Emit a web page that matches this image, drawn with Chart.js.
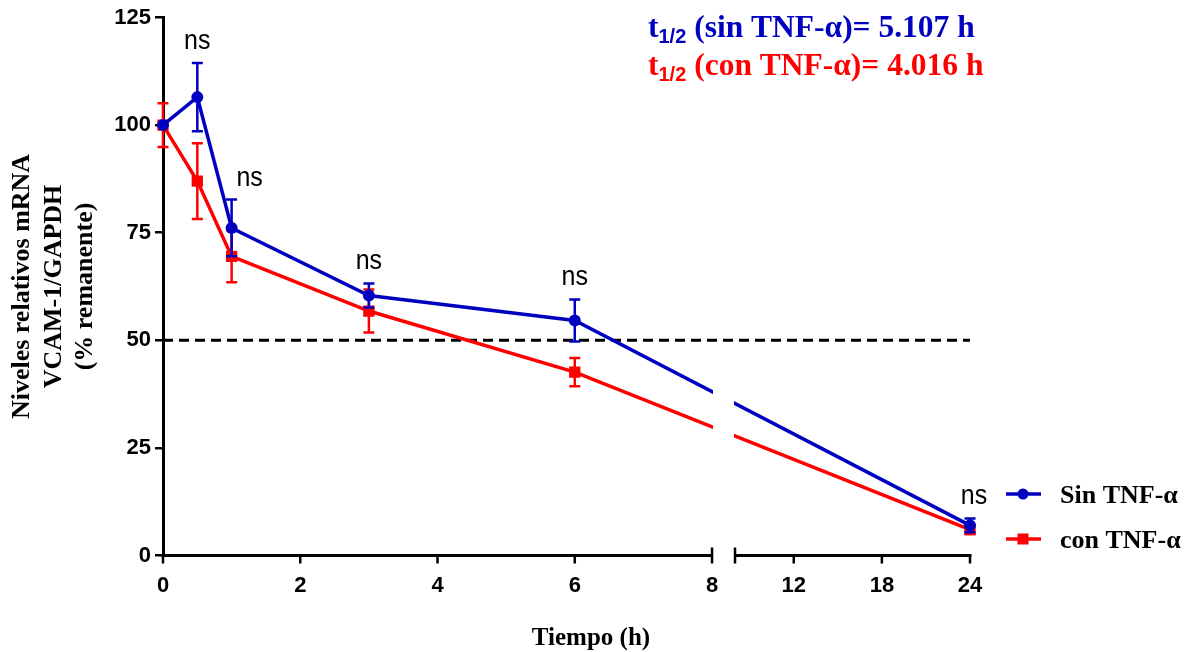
<!DOCTYPE html>
<html><head><meta charset="utf-8">
<script src="https://cdn.jsdelivr.net/npm/chart.js@4.4.1/dist/chart.umd.min.js"></script>
<style>html,body{margin:0;padding:0;background:#fff;}#wrap{width:1188px;height:652px;position:relative;}</style>
</head><body><div id="wrap"><canvas id="c" width="1188" height="652"></canvas></div>
<script>
// ---- data ----
const timesH = [0, 0.5, 1, 3, 6, 24];
const sinTNF = [100, 106.5, 76.1, 60.4, 54.6, 7.0];
const sinTNFErr = [0, 7.9, 6.6, 2.8, 4.9, 1.6];
const conTNF = [100, 87.0, 69.5, 56.8, 42.6, 6.0];
const conTNFErr = [5.1, 8.8, 6.0, 5.0, 3.3, 1.0];
const seriesLabels = ['Sin TNF-\u03B1', 'con TNF-\u03B1'];
const halfLifeLabels = ['(sin TNF-\u03B1)= 5.107 h', '(con TNF-\u03B1)= 4.016 h'];
const nsLabels = ['', 'ns', 'ns', 'ns', 'ns', 'ns'];
const xTickLabels = [0, 2, 4, 6, 8, 12, 18, 24];
const yTickLabels = [0, 25, 50, 75, 100, 125];
const referenceLevel = [50, 50];
const referenceTimes = [0, 24];
const xTitle = 'Tiempo (h)';
const yTitle = ['Niveles relativos mRNA', 'VCAM-1/GAPDH', '(% remanente)'];

// ---- styles ----
const BLUE = '#0000C0', RED = '#FF0000';
const SERIF = "'Liberation Serif', 'Times New Roman', serif";
const SANS = "'Liberation Sans', Arial, sans-serif";
const nsShiftPx = [0, 0, 18, 0, 0, 4];

// broken x axis: 0-8 h full scale, 8-24 h compressed after a gap
const BREAK_AT = 8, GAP = 0.335, K = 0.214;
const ux = t => t <= BREAK_AT ? t : BREAK_AT + GAP + (t - BREAK_AT) * K;

const seriesVals = [sinTNF, conTNF];
const seriesErrs = [sinTNFErr, conTNFErr];
const seriesColors = [BLUE, RED];

const brokenAxisPlugin = {
  id: 'brokenAxis',
  beforeDatasetDraw(chart, args) {
    const ds = chart.data.datasets[args.index];
    if (ds._series === undefined) return;
    const ctx = chart.ctx, xs = chart.scales.x, ys = chart.scales.y;
    const bx1 = xs.getPixelForValue(BREAK_AT) + 1, bx2 = xs.getPixelForValue(BREAK_AT + GAP) - 1;
    ctx.save();
    ctx.beginPath();
    ctx.rect(0, 0, bx1, chart.height);
    ctx.rect(bx2, 0, chart.width - bx2, chart.height);
    ctx.clip();
    // error bars
    const s = ds._series, vals = seriesVals[s], errs = seriesErrs[s];
    ctx.strokeStyle = seriesColors[s];
    ctx.lineWidth = 2.5;
    timesH.forEach((t, i) => {
      if (!errs[i]) return;
      const x = xs.getPixelForValue(ux(t));
      const yt = ys.getPixelForValue(vals[i] + errs[i]);
      const yb = ys.getPixelForValue(vals[i] - errs[i]);
      ctx.beginPath();
      ctx.moveTo(x, yt); ctx.lineTo(x, yb);
      ctx.moveTo(x - 5.5, yt); ctx.lineTo(x + 5.5, yt);
      ctx.moveTo(x - 5.5, yb); ctx.lineTo(x + 5.5, yb);
      ctx.stroke();
    });
  },
  afterDatasetDraw(chart, args) {
    const ds = chart.data.datasets[args.index];
    if (ds._series === undefined) return;
    chart.ctx.restore();
  },
  afterDatasetsDraw(chart) {
    const ctx = chart.ctx, xs = chart.scales.x, ys = chart.scales.y;
    const y0 = ys.getPixelForValue(0);
    const p0 = xs.getPixelForValue(0), p8 = xs.getPixelForValue(BREAK_AT);
    const p8b = xs.getPixelForValue(BREAK_AT + GAP), pEnd = xs.getPixelForValue(ux(24));
    ctx.save();
    ctx.strokeStyle = '#000';
    ctx.lineWidth = 3;
    ctx.beginPath();
    ctx.moveTo(p0 - 1.5, y0); ctx.lineTo(p8, y0);
    ctx.moveTo(p8b, y0); ctx.lineTo(pEnd + 1.5, y0);
    ctx.stroke();
    ctx.lineWidth = 2.5;
    ctx.beginPath();
    xTickLabels.forEach(t => {
      const x = xs.getPixelForValue(ux(t));
      const top = (t === BREAK_AT) ? y0 - 8 : y0;
      ctx.moveTo(x, top); ctx.lineTo(x, y0 + 8);
    });
    ctx.moveTo(p8b, y0 - 8); ctx.lineTo(p8b, y0 + 8);
    ctx.stroke();
    // ns labels
    ctx.fillStyle = '#000';
    ctx.font = '25px ' + SANS;
    ctx.textAlign = 'center';
    ctx.textBaseline = 'alphabetic';
    timesH.forEach((t, i) => {
      if (!nsLabels[i]) return;
      const top = Math.max(sinTNF[i] + sinTNFErr[i], conTNF[i] + conTNFErr[i]);
      const x = xs.getPixelForValue(ux(t)) + nsShiftPx[i];
      const y = ys.getPixelForValue(top) - 14;
      ctx.save();
      ctx.translate(x, y);
      ctx.scale(1, 1.12);
      ctx.fillText(nsLabels[i], 0, 0);
      ctx.restore();
    });
    ctx.restore();
  },
  afterDraw(chart) {
    const ctx = chart.ctx;
    ctx.save();
    // x axis title
    ctx.fillStyle = '#000';
    ctx.font = 'bold 25px ' + SERIF;
    ctx.textAlign = 'center';
    ctx.textBaseline = 'alphabetic';
    ctx.fillText(xTitle, 591, 645);
    // half-life annotations
    const hlY = [37, 75];
    halfLifeLabels.forEach((txt, i) => {
      ctx.fillStyle = seriesColors[i];
      ctx.textAlign = 'left';
      ctx.textBaseline = 'alphabetic';
      let x = 648;
      ctx.font = 'bold 31.5px ' + SERIF;
      ctx.fillText('t', x, hlY[i]);
      x += ctx.measureText('t').width;
      ctx.font = 'bold 20px ' + SANS;
      ctx.fillText('1/2', x, hlY[i] + 6);
      x += ctx.measureText('1/2').width;
      ctx.font = 'bold 31.5px ' + SERIF;
      ctx.fillText(' ' + txt, x, hlY[i]);
    });
    // legend
    const legY = [494, 539];
    seriesLabels.forEach((lab, i) => {
      const y = legY[i];
      ctx.strokeStyle = seriesColors[i];
      ctx.fillStyle = seriesColors[i];
      ctx.lineWidth = 3.5;
      ctx.beginPath(); ctx.moveTo(1006, y); ctx.lineTo(1041, y); ctx.stroke();
      if (i === 0) { ctx.beginPath(); ctx.arc(1023, y, 5.5, 0, Math.PI * 2); ctx.fill(); }
      else { ctx.fillRect(1017.5, y - 5.5, 11, 11); }
      ctx.fillStyle = '#000';
      ctx.font = 'bold 26px ' + SERIF;
      ctx.textAlign = 'left';
      ctx.textBaseline = 'alphabetic';
      ctx.fillText(lab, 1060, y + 9);
    });
    ctx.restore();
  }
};

const mkSeries = (s, style, radius, order) => ({
  label: seriesLabels[s],
  _series: s,
  data: timesH.map((t, i) => ({ x: ux(t), y: seriesVals[s][i] })),
  borderColor: seriesColors[s],
  backgroundColor: seriesColors[s],
  borderWidth: 3.5,
  pointStyle: style,
  pointRadius: radius,
  pointBorderWidth: 0,
  tension: 0,
  clip: false,
  order: order
});

new Chart(document.getElementById('c'), {
  type: 'scatter',
  data: {
    datasets: [
      mkSeries(0, 'circle', 6, 1),
      mkSeries(1, 'rect', 8, 2),
      {
        label: 'ref',
        data: referenceTimes.map((t, i) => ({ x: ux(t), y: referenceLevel[i] })),
        showLine: true,
        borderColor: '#000',
        borderWidth: 3,
        borderDash: [10, 6],
        pointRadius: 0,
        clip: false,
        order: 3
      }
    ]
  },
  options: {
    responsive: false,
    animation: false,
    showLine: true,
    layout: { padding: { top: 17.5, right: 218, left: 0, bottom: 0 } },
    plugins: {
      legend: { display: false },
      tooltip: { enabled: false },
      title: { display: false }
    },
    scales: {
      x: {
        type: 'linear',
        min: 0,
        max: ux(24),
        afterBuildTicks: (scale) => { scale.ticks = xTickLabels.map(t => ({ value: ux(t) })); },
        afterFit: (scale) => { scale.height = 96.5; },
        grid: { display: true, drawOnChartArea: false, drawTicks: true, tickLength: 8, color: 'rgba(0,0,0,0)' },
        border: { display: false },
        ticks: {
          autoSkip: false,
          maxRotation: 0,
          padding: 9,
          color: '#000',
          font: { family: SANS, size: 22, weight: 'bold' },
          callback: (v) => {
            const i = xTickLabels.findIndex(t => Math.abs(ux(t) - v) < 1e-6);
            return i >= 0 ? String(xTickLabels[i]) : '';
          }
        }
      },
      y: {
        type: 'linear',
        min: 0,
        max: 125,
        afterBuildTicks: (scale) => { scale.ticks = yTickLabels.map(v => ({ value: v })); },
        afterFit: (scale) => { scale.width = 163; },
        grid: { display: true, drawOnChartArea: false, drawTicks: true, tickLength: 8, color: '#000', lineWidth: 2.5 },
        border: { display: true, color: '#000', width: 3 },
        ticks: {
          padding: 4,
          color: '#000',
          font: { family: SANS, size: 22, weight: 'bold' }
        },
        title: {
          display: true,
          text: yTitle,
          color: '#000',
          font: { family: SERIF, size: 26, weight: 'bold', lineHeight: 1.2 },
          padding: { top: 7, bottom: 0 }
        }
      }
    }
  },
  plugins: [brokenAxisPlugin]
});
</script></body></html>
